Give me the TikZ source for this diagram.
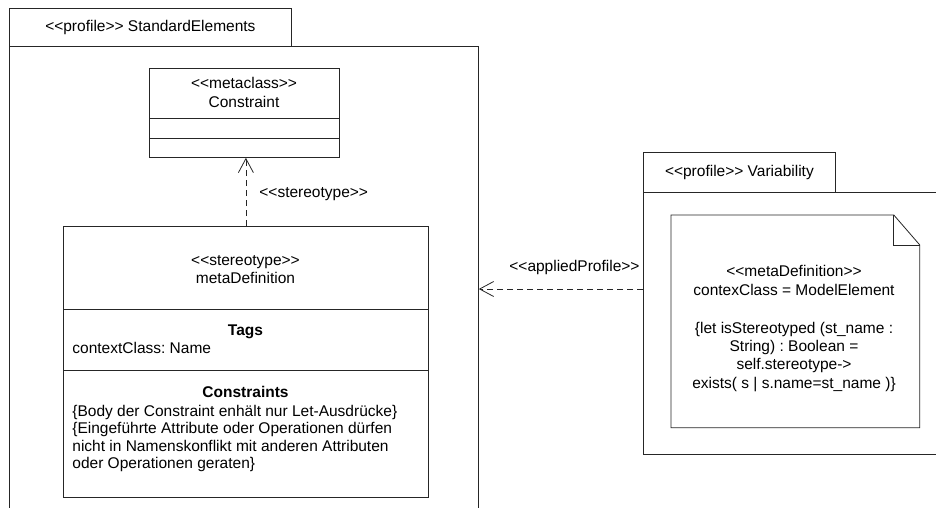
\documentclass[tikz,border=0pt]{standalone}
\usepackage{fontspec}
\setmainfont{Liberation Sans}[Ligatures=TeXOff]
\usetikzlibrary{arrows.meta}
\frenchspacing
\begin{document}
\begin{tikzpicture}[x=1pt,y=-1pt,line width=0.8pt,
  box/.style={draw=black!85,rectangle,inner sep=0pt,anchor=north west},
  ghost/.style={rectangle,inner sep=0pt,anchor=north west},
  txt/.style={font=\fontsize{15.5}{18}\selectfont\frenchspacing,inner sep=0pt},
  dep/.style={draw=black!85,dash pattern=on 6pt off 4pt,-{Straight Barb[length=14pt,width=15pt]}},
]
\useasboundingbox (0,0) rectangle (936,507);
\clip (0,0) rectangle (936,507);

% ---------- left package ----------
\node[box,minimum width=282pt,minimum height=38pt] (pkgLtab) at (9,8) {};
\node[box,minimum width=469pt,minimum height=520pt] (pkgLbody) at (9,46) {};
\node[txt] at (pkgLtab.center) {<<profile>> StandardElements};

% Constraint metaclass
\node[box,minimum width=190pt,minimum height=89pt] (constraint) at (149,68) {};
\draw[draw=black!85] ([yshift=-50pt]constraint.north west) -- ([yshift=-50pt]constraint.north east);
\draw[draw=black!85] ([yshift=-70pt]constraint.north west) -- ([yshift=-70pt]constraint.north east);
\node[txt,anchor=base] (cst1) at (244,88.5) {<<metaclass>>};
\node[txt,anchor=base] (cst2) at (244,107) {Constraint};

% metaDefinition stereotype
\node[box,minimum width=365pt,minimum height=271pt] (metadef) at (63,226) {};
\draw[draw=black!85] ([yshift=-83pt]metadef.north west) -- ([yshift=-83pt]metadef.north east);
\draw[draw=black!85] ([yshift=-144pt]metadef.north west) -- ([yshift=-144pt]metadef.north east);
\node[txt,anchor=base] (md1) at (245.5,265) {<<stereotype>>};
\node[txt,anchor=base] (md2) at (245.5,283) {metaDefinition};
\node[txt,anchor=base,font=\fontsize{15.5}{18}\selectfont\bfseries] (tags) at (245.5,335) {Tags};
\node[txt,anchor=base west] (tag1) at (72,353) {contextClass: Name};
\node[txt,anchor=base,font=\fontsize{15.5}{18}\selectfont\bfseries] (cons) at (245.5,397) {Constraints};
\node[txt,anchor=base west] (c1) at (72,416) {\{Body der Constraint enhält nur Let-Ausdrücke\}};
\node[txt,anchor=base west] (c2) at (72,433.5) {\{Eingeführte Attribute oder Operationen dürfen};
\node[txt,anchor=base west] (c3) at (72,451) {nicht in Namenskonflikt mit anderen Attributen};
\node[txt,anchor=base west] (c4) at (72,468.5) {oder Operationen geraten\}};

% stereotype dependency
\draw[dep] (metadef.north) -- (metadef.north |- constraint.south);
\node[txt,anchor=base west] (stlab) at (259,197) {<<stereotype>>};

% ---------- right package ----------
\node[box,minimum width=192pt,minimum height=40pt] (pkgRtab) at (643,152) {};
\node[box,minimum width=320pt,minimum height=262pt] (pkgRbody) at (643,192) {};
\node[txt] at (pkgRtab.center) {<<profile>> Variability};

% note
\node[ghost,minimum width=248pt,minimum height=212pt] (note) at (671,215) {};
\draw[draw=black!85] (note.north west) -- ([xshift=-26pt]note.north east)
  -- ([yshift=-30pt]note.north east) -- (note.south east) -- (note.south west) -- cycle;
\draw[draw=black!85] ([xshift=-26pt]note.north east) -- ([xshift=-26pt,yshift=-30pt]note.north east)
  -- ([yshift=-30pt]note.north east);
\node[txt,anchor=base] (n1) at (794,276.7) {<<metaDefinition>>};
\node[txt,anchor=base] (n2) at (794,295.7) {contexClass = ModelElement};
\node[txt,anchor=base] (n3) at (794,333.3) {\{let isStereotyped (st\_name :};
\node[txt,anchor=base] (n4) at (794,351.7) {String) : Boolean =};
\node[txt,anchor=base] (n5) at (794,369.3) {self.stereotype->};
\node[txt,anchor=base] (n6) at (794,388.3) {exists( s | s.name=st\_name )\}};

% applied profile dependency
\coordinate (apY) at (0,289);
\draw[dep] (pkgRbody.west |- apY) -- (pkgLbody.east |- apY);
\node[txt,anchor=base west] (aplab) at (509,271.5) {<<appliedProfile>>};
\end{tikzpicture}
\end{document}
